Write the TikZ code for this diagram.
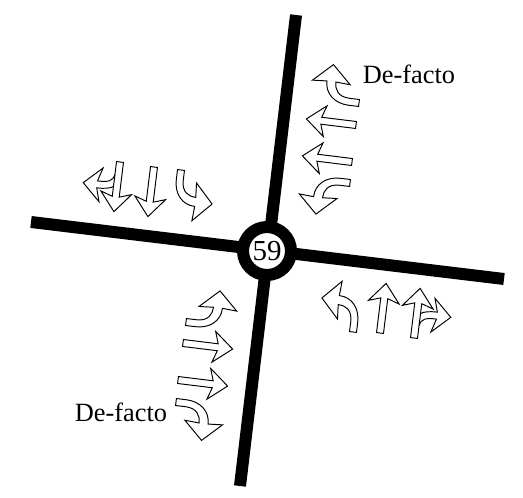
\documentclass[tikz,border=0pt]{standalone}
\usepackage{fontspec}
\setmainfont{Liberation Serif}
\usetikzlibrary{positioning}
\tikzset{
    road/.style={line width=0.24cm},
    lane/.style={draw, line width=0.55pt, line join=miter},
    label/.style={font=\fontsize{15}{18}\selectfont, inner sep=0pt, anchor=base},
    pics/straightlane/.style={code={
        \draw[lane] (3.5,0) -- (3.5,35) -- (15.5,31) -- (0,50) -- (-15.5,31) -- (-3.5,35) -- (-3.5,0) -- cycle;
    }},
    pics/turnlane/.style={code={
        \draw[lane] (3.5,0) -- (3.5,10) .. controls (3.5,24) and (-5,34.5) .. (-18,34.5) -- (-17,49) -- (-35,30) -- (-17,11) -- (-18,25.5) .. controls (-11,25.5) and (-3.5,22) .. (-3.5,10) -- (-3.5,0) -- cycle;
    }},
    pics/straightright/.style={code={
        \draw[lane] (3.5,0) -- (3.5,35) -- (15.5,31) -- (0,50) -- (-15.5,31) -- (-3.5,35) -- (-3.5,0) -- cycle;
        \draw[lane] (3.5,13) .. controls (5,20) and (9,21.5) .. (20,21.5) -- (16,8) -- (34,25) -- (16,42) -- (20,28.5) .. controls (11,28.5) and (6,27) .. (3.5,25);
    }}
}
\begin{document}
\begin{tikzpicture}[x=0.02cm, y=0.02cm]
    \useasboundingbox (0,0) rectangle (523,497);

    \coordinate (RN) at (296,482);
    \coordinate (RS) at (240,11);
    \coordinate (RW) at (31,275);
    \coordinate (RE) at (504,218);
    \draw[road] (RN) -- (RS);
    \draw[road] (RW) -- (RE);

    \node[circle, draw, fill=white, line width=0.24cm, minimum size=0.96cm, inner sep=0pt, outer sep=0pt, font=\fontsize{16.5}{18}\selectfont] (J59) at (267,246) {59};

    % north-east
    \pic[rotate=83, xscale=-1] at (359,394) {turnlane};
    \pic[rotate=83] at (356,372) {straightlane};
    \pic[rotate=83] at (352,335) {straightlane};
    \pic[rotate=83] at (350,314) {turnlane};
    \node[label] (DF1) at (409,413) {De-facto};

    % north-west
    \pic[rotate=173] at (120,335) {straightright};
    \pic[rotate=173] at (154,330) {straightlane};
    \pic[rotate=173] at (181,327) {turnlane};

    % south-west
    \pic[rotate=-97] at (186,175) {turnlane};
    \pic[rotate=-97] at (183,154) {straightlane};
    \pic[rotate=-97] at (178,117) {straightlane};
    \pic[rotate=-97, xscale=-1] at (176,95) {turnlane};
    \node[label] (DF2) at (121,76) {De-facto};

    % south-east
    \pic[rotate=-7] at (353,165) {turnlane};
    \pic[rotate=-7] at (380,164) {straightlane};
    \pic[rotate=-7] at (414,159) {straightright};
\end{tikzpicture}
\end{document}
